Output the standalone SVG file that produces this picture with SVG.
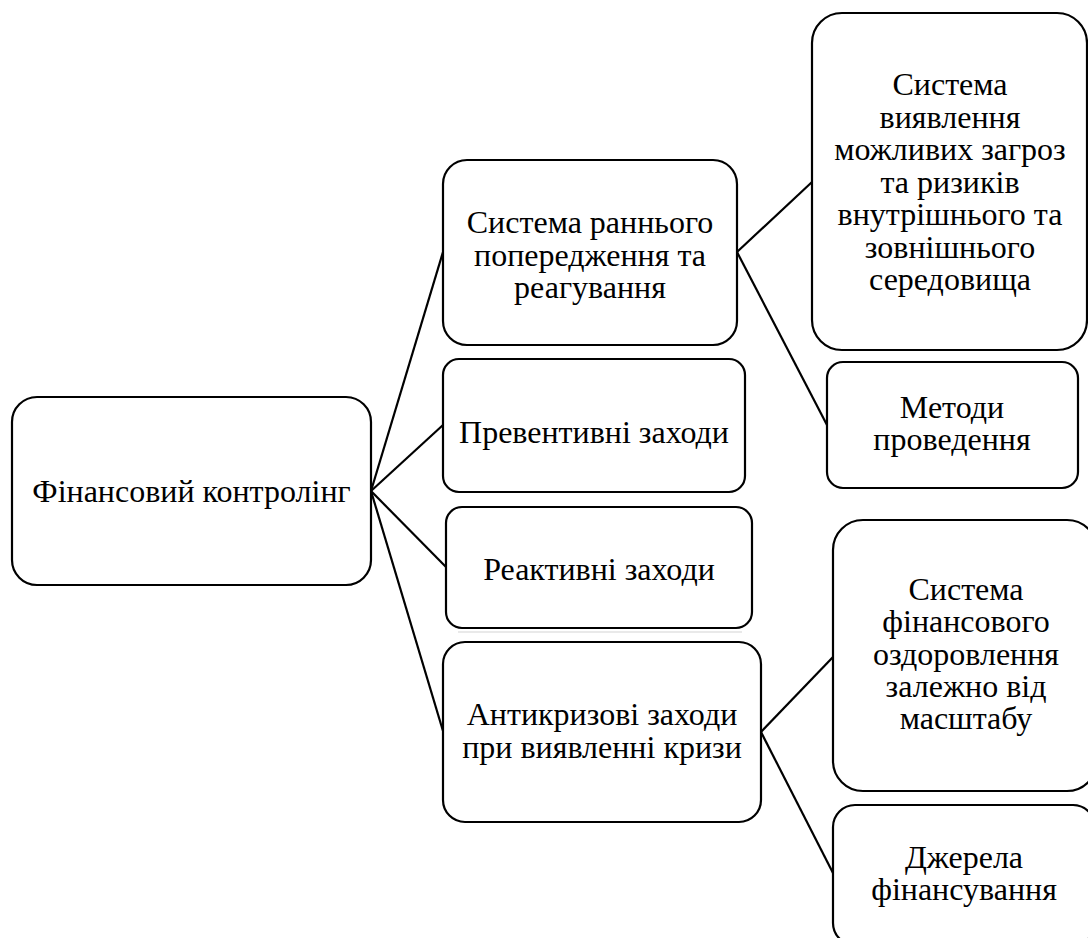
<svg xmlns="http://www.w3.org/2000/svg" width="1088" height="938" viewBox="0 0 1088 938">
<style>
.box{fill:#fff;stroke:#000;stroke-width:2.2}
.lbl{font-family:"Liberation Serif","Times New Roman",serif;font-size:32px;fill:#000;text-anchor:middle}
.conn line{stroke:#000;stroke-width:2.2}
</style>
<rect width="1088" height="938" fill="#fff"/>
<line x1="458" y1="632" x2="742" y2="632" stroke="#d4d4d4" stroke-width="1.2"/>
<g class="conn" id="connectors">
<line x1="371" y1="491" x2="443" y2="252"/>
<line x1="371" y1="491" x2="443" y2="425"/>
<line x1="371" y1="491" x2="446" y2="567"/>
<line x1="371" y1="491" x2="443" y2="731"/>
<line x1="737" y1="252" x2="812" y2="182"/>
<line x1="737" y1="252" x2="827" y2="425"/>
<line x1="761" y1="732" x2="833" y2="657"/>
<line x1="761" y1="732" x2="833" y2="873"/>
</g>
<g id="root">
<rect class="box" x="12" y="397" width="359" height="188" rx="25"/>
<text class="lbl" x="191.5" y="502">Фінансовий контролінг</text>
</g>
<g id="early">
<rect class="box" x="443" y="160" width="294" height="185" rx="24"/>
<text class="lbl" x="590" y="233">Система раннього</text>
<text class="lbl" x="590" y="266">попередження та</text>
<text class="lbl" x="590" y="298">реагування</text>
</g>
<g id="preventive">
<rect class="box" x="443" y="359" width="302" height="133" rx="16"/>
<text class="lbl" x="594" y="443">Превентивні заходи</text>
</g>
<g id="reactive">
<rect class="box" x="446" y="507" width="306" height="121" rx="16"/>
<text class="lbl" x="599" y="580">Реактивні заходи</text>
</g>
<g id="anticrisis">
<rect class="box" x="443" y="642" width="318" height="180" rx="22"/>
<text class="lbl" x="602" y="725">Антикризові заходи</text>
<text class="lbl" x="602" y="758">при виявленні кризи</text>
</g>
<g id="detection">
<rect class="box" x="812" y="13" width="275" height="337" rx="30"/>
<text class="lbl" x="950" y="95">Система</text>
<text class="lbl" x="950" y="127.5">виявлення</text>
<text class="lbl" x="950" y="160">можливих загроз</text>
<text class="lbl" x="950" y="192.5">та ризиків</text>
<text class="lbl" x="950" y="225">внутрішнього та</text>
<text class="lbl" x="950" y="257.5">зовнішнього</text>
<text class="lbl" x="950" y="290">середовища</text>
</g>
<g id="methods">
<rect class="box" x="827" y="362" width="251" height="126" rx="16"/>
<text class="lbl" x="952" y="418">Методи</text>
<text class="lbl" x="952" y="450">проведення</text>
</g>
<g id="recovery">
<rect class="box" x="833" y="520" width="264" height="271" rx="30"/>
<text class="lbl" x="966" y="600">Система</text>
<text class="lbl" x="966" y="632">фінансового</text>
<text class="lbl" x="966" y="664.5">оздоровлення</text>
<text class="lbl" x="966" y="697">залежно від</text>
<text class="lbl" x="966" y="729">масштабу</text>
</g>
<g id="sources">
<rect class="box" x="833" y="805" width="262" height="140" rx="22"/>
<text class="lbl" x="964" y="868">Джерела</text>
<text class="lbl" x="964" y="900">фінансування</text>
</g>
</svg>
